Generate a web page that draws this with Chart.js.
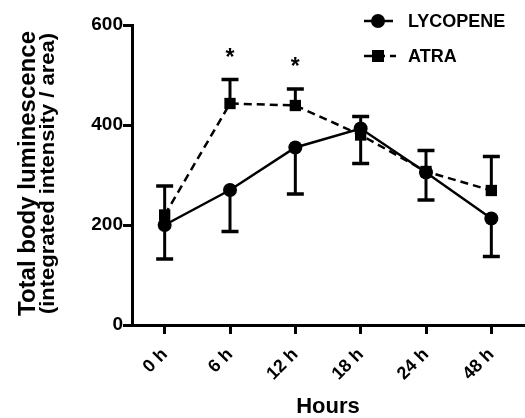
<!DOCTYPE html>
<html>
<head>
<meta charset="utf-8">
<script src="https://cdn.jsdelivr.net/npm/chart.js@4.4.1/dist/chart.umd.min.js"></script>
<style>
  html, body { margin: 0; padding: 0; background: #fff; }
  #wrap { width: 525px; height: 418px; position: relative; }
</style>
</head>
<body>
<div id="wrap"><canvas id="c" width="525" height="418"></canvas></div>
<script>
// ---- data ----
const categories = ['0 h', '6 h', '12 h', '18 h', '24 h', '48 h'];
const lycopene = [200, 270, 355, 393, 305, 213];
const lycopeneLower = [132, 187, 262, 323, 250, 137];
const atra = [220, 443, 439, 380, 307, 269];
const atraUpper = [278, 491, 472, 417, 349, 337];
const significance = ['', '*', '*', '', '', ''];
const yTicks = [0, 200, 400, 600];
const seriesNames = ['LYCOPENE', 'ATRA'];
const xTitle = 'Hours';
const yTitleLines = ['Total body luminescence', '(integrated intensity / area)'];

const FONT = '"Liberation Sans", Arial, sans-serif';

const errorBars = {
  id: 'errorBars',
  beforeDatasetsDraw(chart) {
    const ctx = chart.ctx;
    const xs = chart.scales.x, ys = chart.scales.y;
    const sets = [[lycopene, lycopeneLower], [atra, atraUpper]];
    ctx.save();
    ctx.strokeStyle = '#000';
    ctx.lineCap = 'butt';
    sets.forEach(([vals, errs]) => {
      vals.forEach((v, i) => {
        const x = xs.getPixelForValue(i);
        const y1 = ys.getPixelForValue(v);
        const y2 = ys.getPixelForValue(errs[i]);
        ctx.lineWidth = 3;
        ctx.beginPath();
        ctx.moveTo(x, y1); ctx.lineTo(x, y2);
        ctx.stroke();
        ctx.lineWidth = 3.5;
        ctx.beginPath();
        ctx.moveTo(x - 8.5, y2); ctx.lineTo(x + 8.5, y2);
        ctx.stroke();
      });
    });
    // significance marks
    ctx.fillStyle = '#000';
    ctx.font = 'bold 23px ' + FONT;
    ctx.textAlign = 'center';
    ctx.textBaseline = 'middle';
    significance.forEach((s, i) => {
      if (!s) return;
      const x = xs.getPixelForValue(i);
      const top = Math.max(atraUpper[i], lycopene[i]);
      const y = ys.getPixelForValue(top) - 21;
      ctx.fillText(s, x, y);
    });
    ctx.restore();
  },
  afterDraw(chart) {
    const ctx = chart.ctx;
    const ca = chart.chartArea;
    ctx.save();
    ctx.fillStyle = '#000';
    // x title
    ctx.font = 'bold 22px ' + FONT;
    ctx.textAlign = 'center';
    ctx.textBaseline = 'middle';
    ctx.fillText(xTitle, (ca.left + ca.right) / 2, 407);
    // y title (two lines, different sizes)
    ctx.translate(0, 173.5);
    ctx.rotate(-Math.PI / 2);
    ctx.textBaseline = 'alphabetic';
    ctx.font = 'bold 24px ' + FONT;
    ctx.fillText(yTitleLines[0], 0, 35);
    ctx.font = 'bold 20px ' + FONT;
    ctx.scale(1.1, 1);
    ctx.fillText(yTitleLines[1], 0, 54);
    ctx.restore();

    // legend
    ctx.save();
    ctx.strokeStyle = '#000';
    ctx.fillStyle = '#000';
    ctx.lineWidth = 2.5;
    const lx0 = 364, lx1 = 393, mx = 378;
    let y = 21;
    ctx.beginPath(); ctx.moveTo(lx0, y); ctx.lineTo(lx1, y); ctx.stroke();
    ctx.beginPath(); ctx.arc(mx, y, 7, 0, Math.PI * 2); ctx.fill();
    y = 56;
    ctx.setLineDash([8, 5]);
    ctx.beginPath(); ctx.moveTo(lx0, y); ctx.lineTo(lx1 + 3, y); ctx.stroke();
    ctx.setLineDash([]);
    ctx.fillRect(mx - 6, y - 6, 12, 12);
    ctx.font = 'bold 18px ' + FONT;
    ctx.textAlign = 'left';
    ctx.textBaseline = 'middle';
    ctx.fillText(seriesNames[0], 408, 22);
    ctx.fillText(seriesNames[1], 408, 57);
    ctx.restore();
  }
};

new Chart(document.getElementById('c'), {
  type: 'line',
  data: {
    labels: categories,
    datasets: [
      {
        label: seriesNames[0],
        data: lycopene,
        borderColor: '#000',
        backgroundColor: '#000',
        borderWidth: 2.5,
        pointStyle: 'circle',
        pointRadius: 7,
        pointBorderWidth: 0,
        tension: 0,
        fill: false
      },
      {
        label: seriesNames[1],
        data: atra,
        borderColor: '#000',
        backgroundColor: '#000',
        borderWidth: 2.5,
        borderDash: [8, 5],
        pointStyle: 'rect',
        pointRadius: 8,
        pointBorderWidth: 0,
        tension: 0,
        fill: false
      }
    ]
  },
  options: {
    responsive: false,
    animation: false,
    devicePixelRatio: 1,
    layout: { autoPadding: false, padding: { top: 25, right: 1, left: 0, bottom: 0 } },
    plugins: { legend: { display: false }, tooltip: { enabled: false } },
    scales: {
      x: {
        type: 'category',
        offset: true,
        afterFit(s) { s.height = 93; },
        grid: { display: true, drawOnChartArea: false, drawTicks: true, tickLength: 9, tickColor: '#000', tickWidth: 3, offset: false },
        border: { display: true, color: '#000', width: 3 },
        ticks: {
          color: '#000', font: { family: FONT, weight: 'bold', size: 18 },
          maxRotation: 45, minRotation: 45, padding: 10, autoSkip: false
        }
      },
      y: {
        min: 0, max: 600,
        afterFit(s) { s.width = 132; },
        afterBuildTicks(s) { s.ticks = yTicks.map(v => ({ value: v })); },
        grid: { display: true, drawOnChartArea: false, drawTicks: true, tickLength: 9, tickColor: '#000', tickWidth: 3 },
        border: { display: true, color: '#000', width: 3 },
        ticks: { color: '#000', font: { family: FONT, weight: 'bold', size: 19 }, padding: 0 }
      }
    }
  },
  plugins: [errorBars]
});
</script>
</body>
</html>
